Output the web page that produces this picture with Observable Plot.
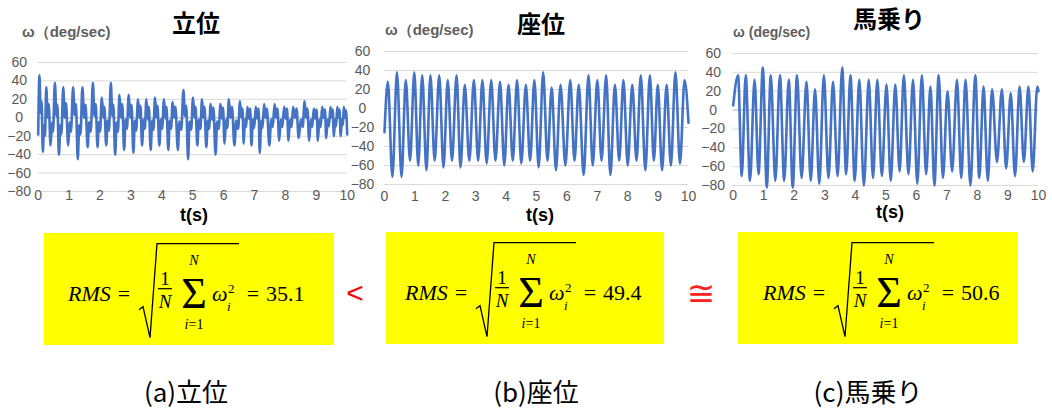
<!DOCTYPE html>
<html><head><meta charset="utf-8">
<script src="https://cdn.jsdelivr.net/npm/d3@7"></script>
<script src="https://cdn.jsdelivr.net/npm/@observablehq/plot@0.6"></script>
<style>
body{margin:0;background:#fff;}
#root{position:relative;width:1052px;height:414px;overflow:hidden;background:#fff;font-family:"Liberation Sans",Arial,sans-serif;}
.abs{position:absolute;white-space:nowrap;line-height:1;}
.ttl{font-family:"Noto Sans CJK JP";font-weight:700;font-size:24px;color:#000;transform:translate(-50%,-50%);}
.ylab{font-family:"Liberation Sans",Arial,sans-serif;font-weight:700;font-size:15px;color:#606060;transform:translateY(-50%);}
.xlab{font-family:"Liberation Sans",Arial,sans-serif;font-weight:700;font-size:18px;color:#000;transform:translate(-50%,-50%);}
.cap{font-family:"Noto Sans CJK JP";font-size:26px;color:#000;transform:translate(-50%,-50%);}
.box{background:#ffff00;}
.plot{position:absolute;}
</style></head><body><div id="root"></div>
<script>
// ---------- data ----------
const xTicks = [0,1,2,3,4,5,6,7,8,9,10];
const yTicks = [-80,-60,-40,-20,0,20,40,60];
const titles = ["立位","座位","馬乗り"];
const yLabels = ["ω（deg/sec)","ω（deg/sec)","ω (deg/sec)"];
const xLabel = "t(s)";
const rmsValues = ["35.1","49.4","50.6"];
const captions = ["(a)立位","(b)座位","(c)馬乗り"];
const relations = ["<","≅"];

// (a) standing: [t (s), ω (deg/sec)]
const standing = [
[0.00,-18],[0.04,46],[0.08,5],[0.11,18],[0.15,-37],[0.19,-8],[0.22,-20],[0.26,33],[0.31,0],[0.34,15],[0.40,-30],[0.45,-5],[0.48,-15],
[0.54,38],[0.59,2],[0.62,14],[0.67,-40],[0.72,-8],[0.75,-18],[0.81,33],[0.86,0],[0.90,16],[0.97,-30],[1.02,-5],[1.06,-15],
[1.13,33],[1.18,3],[1.22,15],[1.28,-45],[1.33,-8],[1.37,-18],[1.43,33],[1.49,0],[1.53,14],[1.60,-32],[1.65,-5],[1.70,-15],
[1.77,38],[1.82,2],[1.86,15],[1.92,-32],[1.96,-5],[2.00,-15],[2.06,22],[2.11,0],[2.14,12],[2.20,-30],[2.25,-3],[2.29,-14],
[2.35,38],[2.40,2],[2.43,14],[2.49,-40],[2.54,-5],[2.58,-15],[2.63,25],[2.68,0],[2.72,15],[2.78,-35],[2.83,-2],[2.87,-12],
[2.93,25],[2.98,0],[3.02,14],[3.08,-38],[3.13,-3],[3.17,-14],[3.23,20],[3.28,0],[3.31,13],[3.36,-30],[3.41,-2],[3.45,-12],
[3.50,20],[3.55,-2],[3.58,12],[3.64,-35],[3.69,-3],[3.73,-13],[3.78,22],[3.83,0],[3.86,13],[3.92,-30],[3.97,-2],[4.01,-12],
[4.07,20],[4.12,-1],[4.15,12],[4.21,-35],[4.26,-3],[4.30,-12],[4.35,17],[4.40,0],[4.44,12],[4.52,-35],[4.57,-4],[4.63,-13],
[4.70,30],[4.75,2],[4.79,13],[4.85,-45],[4.90,-4],[4.95,-13],[5.01,22],[5.06,0],[5.09,12],[5.15,-30],[5.20,-2],[5.25,-12],
[5.30,20],[5.35,0],[5.38,12],[5.44,-32],[5.49,-3],[5.53,-12],[5.58,15],[5.63,-2],[5.67,11],[5.74,-40],[5.79,-4],[5.84,-12],
[5.90,15],[5.95,-1],[5.98,11],[6.03,-28],[6.08,-2],[6.12,-11],[6.17,20],[6.22,0],[6.27,12],[6.35,-30],[6.41,-3],[6.47,-12],
[6.53,18],[6.58,0],[6.61,10],[6.65,-28],[6.69,-2],[6.73,-10],[6.77,12],[6.82,-1],[6.86,10],[6.90,-30],[6.95,-2],[6.99,-11],
[7.04,12],[7.09,-1],[7.13,10],[7.17,-38],[7.22,-3],[7.26,-11],[7.31,15],[7.36,0],[7.40,10],[7.48,-30],[7.54,-2],[7.59,-10],
[7.65,15],[7.70,0],[7.74,10],[7.80,-25],[7.85,-2],[7.90,-10],[7.96,12],[8.01,-1],[8.05,10],[8.10,-25],[8.15,-2],[8.20,-10],
[8.25,12],[8.31,0],[8.36,10],[8.43,-22],[8.50,-2],[8.56,-10],[8.62,18],[8.67,0],[8.71,10],[8.77,-25],[8.82,-2],[8.87,-10],
[8.92,10],[8.97,-1],[9.01,9],[9.05,-25],[9.10,-2],[9.14,-10],[9.19,12],[9.24,0],[9.28,9],[9.32,-22],[9.37,-2],[9.41,-9],
[9.46,12],[9.50,0],[9.53,9],[9.57,-20],[9.61,-2],[9.64,-9],[9.68,12],[9.72,0],[9.75,9],[9.79,-20],[9.83,-2],[9.86,-8],
[9.89,12],[9.93,0],[9.96,8],[10.0,-18]
];

// (b) sitting: extrema
const sittingPeakT = [0.11,0.41,0.70,0.98,1.24,1.51,1.80,2.08,2.37,2.64,2.94,3.22,3.51,3.80,4.08,4.36,4.65,4.93,5.22,5.50,5.79,6.11,6.39,6.71,7.00,7.29,7.58,7.86,8.15,8.43,8.73,8.99,9.28,9.57,9.87];
const sittingPeakW = [28,38,30,38,35,35,35,30,35,25,30,30,30,28,25,30,25,30,38,22,25,30,25,35,30,35,25,30,25,35,35,25,25,38,30];
const sittingTroughT = [0.26,0.56,0.84,1.11,1.38,1.65,1.94,2.22,2.50,2.79,3.08,3.36,3.65,3.94,4.22,4.50,4.79,5.07,5.36,5.64,5.95,6.25,6.55,6.85,7.14,7.43,7.72,8.00,8.29,8.58,8.86,9.13,9.42,9.72];
const sittingTroughW = [-72,-72,-55,-60,-65,-55,-62,-55,-62,-55,-55,-58,-55,-60,-55,-58,-55,-62,-55,-65,-60,-55,-70,-60,-55,-70,-55,-60,-55,-65,-55,-65,-60,-58];
const sittingEnds = [[0.0,-25],[10.0,-15]];

// (c) straddle riding
const ridingPeakT = [0.16,0.41,0.70,0.97,1.23,1.53,1.82,2.09,2.40,2.68,2.97,3.27,3.57,3.84,4.13,4.44,4.72,5.02,5.31,5.59,5.89,6.18,6.46,6.73,7.02,7.33,7.61,7.93,8.20,8.48,8.80,9.09,9.38,9.67,9.96];
const ridingPeakW = [37,37,32,45,37,37,32,37,30,22,37,30,45,37,32,32,32,27,27,37,32,37,25,37,20,32,32,37,25,22,22,18,25,25,25];
const ridingTroughT = [0.28,0.55,0.83,1.10,1.38,1.67,1.95,2.24,2.54,2.82,3.12,3.42,3.70,3.98,4.28,4.58,4.87,5.16,5.45,5.74,6.03,6.32,6.59,6.87,7.17,7.47,7.77,8.06,8.34,8.64,8.94,9.23,9.52,9.81];
const ridingTroughW = [-70,-75,-68,-82,-75,-75,-82,-72,-75,-78,-72,-70,-68,-75,-80,-72,-70,-75,-65,-68,-78,-68,-80,-72,-65,-72,-80,-72,-75,-55,-62,-70,-55,-65];
const ridingEnds = [[0.0,5],[10.0,20]];

// ---------- build tables ----------
function merge(pt, pw, tt, tw, ends){
  const rows = ends.map(([t,w])=>({t,w}));
  pt.forEach((t,i)=>rows.push({t, w:pw[i]}));
  tt.forEach((t,i)=>rows.push({t, w:tw[i]}));
  return rows.sort((a,b)=>a.t-b.t);
}
const series = [
  standing.map(([t,w])=>({t,w})),
  merge(sittingPeakT, sittingPeakW, sittingTroughT, sittingTroughW, sittingEnds),
  merge(ridingPeakT, ridingPeakW, ridingTroughT, ridingTroughW, ridingEnds)
];

// ---------- layout ----------
const root = document.getElementById("root");
const panels = [
  {left:0,   top:40, w:362, h:175, ml:37.7, mr:15.3, mt:22, mb:24, xp:-1, yp:19,
   title:[196,22], ylab:[22,31,15], xlab:[194,215]},
  {left:340, top:40, w:362, h:175, ml:44,   mr:14,   mt:11, mb:31, xp:7,  yp:22,
   title:[541,23], ylab:[385,29,15], xlab:[540,215]},
  {left:690, top:40, w:362, h:175, ml:42.7, mr:14,   mt:13, mb:30, xp:5,  yp:20,
   title:[889,18], ylab:[733,32,14], xlab:[890,212]}
];

function addDiv(cls, text, x, y, extra){
  const d = document.createElement("div");
  d.className = "abs " + cls;
  d.textContent = text;
  d.style.left = x + "px"; d.style.top = y + "px";
  if (extra) Object.assign(d.style, extra);
  root.appendChild(d);
  return d;
}

panels.forEach((p, i) => {
  const svg = Plot.plot({
    width: p.w, height: p.h,
    marginLeft: p.ml, marginRight: p.mr, marginTop: p.mt, marginBottom: p.mb,
    x: {domain: [0, 10], label: null},
    y: {domain: [-80, 60], label: null},
    style: {background: "transparent", overflow: "visible", fontFamily: "Liberation Sans, Arial, sans-serif", fontSize: "14px"},
    marks: [
      Plot.gridY(yTicks, {stroke: "#d9d9d9", strokeOpacity: 1, strokeWidth: 1}),
      Plot.ruleY([0], {stroke: "#bfbfbf", strokeOpacity: 1}),
      Plot.line(series[i], {x: "t", y: "w", stroke: "#4472c4", strokeWidth: 2.6, curve: "monotone-x"}),
      Plot.axisX(xTicks, {tickSize: 0, tickPadding: p.xp, fill: "#595959", fontSize: 14, label: null}),
      Plot.axisY(yTicks, {tickSize: 0, tickPadding: p.yp, textAnchor: "middle", fill: "#595959", fontSize: 14, label: null})
    ]
  });
  svg.classList.add("plot");
  svg.style.left = p.left + "px"; svg.style.top = p.top + "px";
  root.appendChild(svg);
  addDiv("ttl", titles[i], p.title[0], p.title[1]);
  addDiv("ylab", yLabels[i], p.ylab[0], p.ylab[1], {fontSize: p.ylab[2] + "px"});
  addDiv("xlab", xLabel, p.xlab[0], p.xlab[1]);
});

// yellow boxes
const boxes = [
  {x:44, y:233, w:290, h:112, fx:68, b:300.7},
  {x:386, y:232, w:278, h:112, fx:405, b:299.7},
  {x:738, y:232, w:280, h:112, fx:763, b:299.7}
];
boxes.forEach(bx => {
  const d = document.createElement("div");
  d.className = "abs box";
  Object.assign(d.style, {left: bx.x+"px", top: bx.y+"px", width: bx.w+"px", height: bx.h+"px"});
  root.appendChild(d);
});

// formulas (text overlay)
const NS = "http://www.w3.org/2000/svg";
const over = document.createElementNS(NS, "svg");
over.setAttribute("width", 1052); over.setAttribute("height", 414);
over.style.position = "absolute"; over.style.left = "0"; over.style.top = "0";
root.appendChild(over);
function t(x, y, s, o){
  const e = document.createElementNS(NS, "text");
  e.setAttribute("x", x); e.setAttribute("y", y);
  e.setAttribute("font-family", o.ff || "Liberation Serif, serif");
  e.setAttribute("font-size", o.fs);
  if (o.it) e.setAttribute("font-style", "italic");
  e.setAttribute("text-anchor", o.a || "start");
  e.setAttribute("fill", o.fill || "#000");
  if (o.db) e.setAttribute("dominant-baseline", o.db);
  e.textContent = s;
  over.appendChild(e);
  return e;
}
boxes.forEach((bx, i) => {
  const x0 = bx.fx, b = bx.b;
  t(x0, b, "RMS", {fs: 22, it: true});
  t(x0 + 56, b, "=", {fs: 22, a: "middle"});
  const path = document.createElementNS(NS, "path");
  path.setAttribute("d", `M${x0+71},${b+9} L${x0+75},${b+6} L${x0+82},${b+37} L${x0+89},${b-57} L${x0+171},${b-57}`);
  path.setAttribute("fill", "none"); path.setAttribute("stroke", "#000"); path.setAttribute("stroke-width", 1.3);
  over.appendChild(path);
  t(x0 + 97, b - 16, "1", {fs: 19, a: "middle"});
  const bar = document.createElementNS(NS, "line");
  bar.setAttribute("x1", x0 + 90); bar.setAttribute("x2", x0 + 104);
  bar.setAttribute("y1", b - 12); bar.setAttribute("y2", b - 12);
  bar.setAttribute("stroke", "#000"); bar.setAttribute("stroke-width", 1.2);
  over.appendChild(bar);
  t(x0 + 97, b + 7.5, "N", {fs: 19, it: true, a: "middle"});
  t(x0 + 126, b + 7, "Σ", {fs: 44, a: "middle"});
  t(x0 + 126, b - 35.5, "N", {fs: 14, it: true, a: "middle"});
  const sub = t(x0 + 126, b + 28, "", {fs: 14, a: "middle"});
  const si = document.createElementNS(NS, "tspan"); si.setAttribute("font-style", "italic"); si.textContent = "i";
  const s1 = document.createElementNS(NS, "tspan"); s1.textContent = "=1";
  sub.appendChild(si); sub.appendChild(s1);
  t(x0 + 144, b, "ω", {fs: 22, it: true});
  t(x0 + 160, b - 8, "2", {fs: 13});
  t(x0 + 159, b + 10, "i", {fs: 13, it: true});
  t(x0 + 185, b, "=", {fs: 22, a: "middle"});
  t(x0 + 198, b, rmsValues[i], {fs: 22});
});
t(355, 292, relations[0], {fs: 30, a: "middle", db: "central", fill: "#ff0000", ff: "Liberation Sans, sans-serif"});
t(701, 293, relations[1], {fs: 34, a: "middle", db: "central", fill: "#ff2020", ff: "DejaVu Sans, sans-serif"});

// captions
[186, 536, 868].forEach((cx, i) => addDiv("cap", captions[i], cx, 391));
</script>
</body></html>
